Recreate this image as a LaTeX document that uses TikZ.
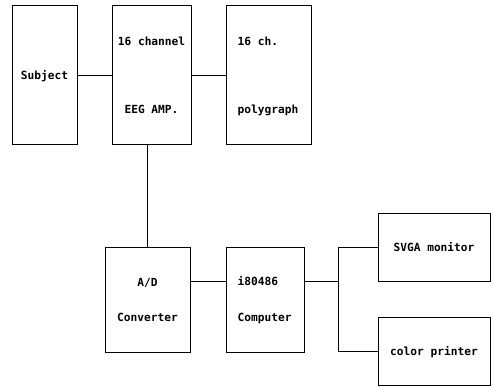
\documentclass[tikz,border=0pt]{standalone}
\usepackage{fontspec}
\setmonofont{DejaVu Sans Mono}
\usetikzlibrary{positioning}

\begin{document}
\begin{tikzpicture}[x=1pt,y=1pt,node distance=34pt,
box/.style={draw,line width=1pt,minimum height=139pt,inner sep=0pt},
txt/.style={font=\ttfamily\bfseries\fontsize{11.2}{13}\selectfont,inner sep=0pt,text height=8pt,text depth=0pt},
wire/.style={line width=1pt}]
\useasboundingbox (0,0) rectangle (493,388);
\node[box,minimum width=65pt](subj) at (44.5,312.5){};
\node[box,minimum width=79pt,right=of subj](eeg){};
\node[box,minimum width=85pt,right=of eeg](poly){};
\node[box,minimum width=85pt,minimum height=105pt](ad) at (147.5,87.5){};
\node[box,minimum width=78pt,minimum height=105pt,right=35pt of ad](comp){};
\node[box,minimum width=112pt,minimum height=68pt](mon) at (434,140){};
\node[box,minimum width=112pt,minimum height=68pt,below=35pt of mon](prn){};
\node[txt](subjt) at (subj){Subject};
\node[txt](eega) at ([yshift=34pt]eeg.center){16 channel};
\node[txt](eegb) at ([yshift=-34pt]eeg.center){EEG AMP.};
\node[txt,anchor=west](polya) at ([xshift=12pt,yshift=34pt]poly.west){16 ch.};
\node[txt,anchor=west](polyb) at ([xshift=12pt,yshift=-34pt]poly.west){polygraph};
\node[txt](ada) at ([yshift=17.5pt]ad.center){A/D};
\node[txt](adb) at ([yshift=-17.5pt]ad.center){Converter};
\node[txt,anchor=west](compa) at ([xshift=12pt,yshift=18.5pt]comp.west){i80486};
\node[txt,anchor=west](compb) at ([xshift=12pt,yshift=-17.5pt]comp.west){Computer};
\node[txt](mont) at (mon){SVGA monitor};
\node[txt](prnt) at (prn){color printer};
\coordinate (fork) at ([xshift=34pt]comp.east |- compa);
\draw[wire](subj)--(eeg);
\draw[wire](eeg)--(poly);
\draw[wire](eeg.south -| ad.north)--(ad.north);
\draw[wire](ad.east |- compa)--(comp.west |- compa);
\draw[wire](comp.east |- compa)--(fork);
\draw[wire](mon.west)-|(fork)|-(prn.west);
\end{tikzpicture}
\end{document}
